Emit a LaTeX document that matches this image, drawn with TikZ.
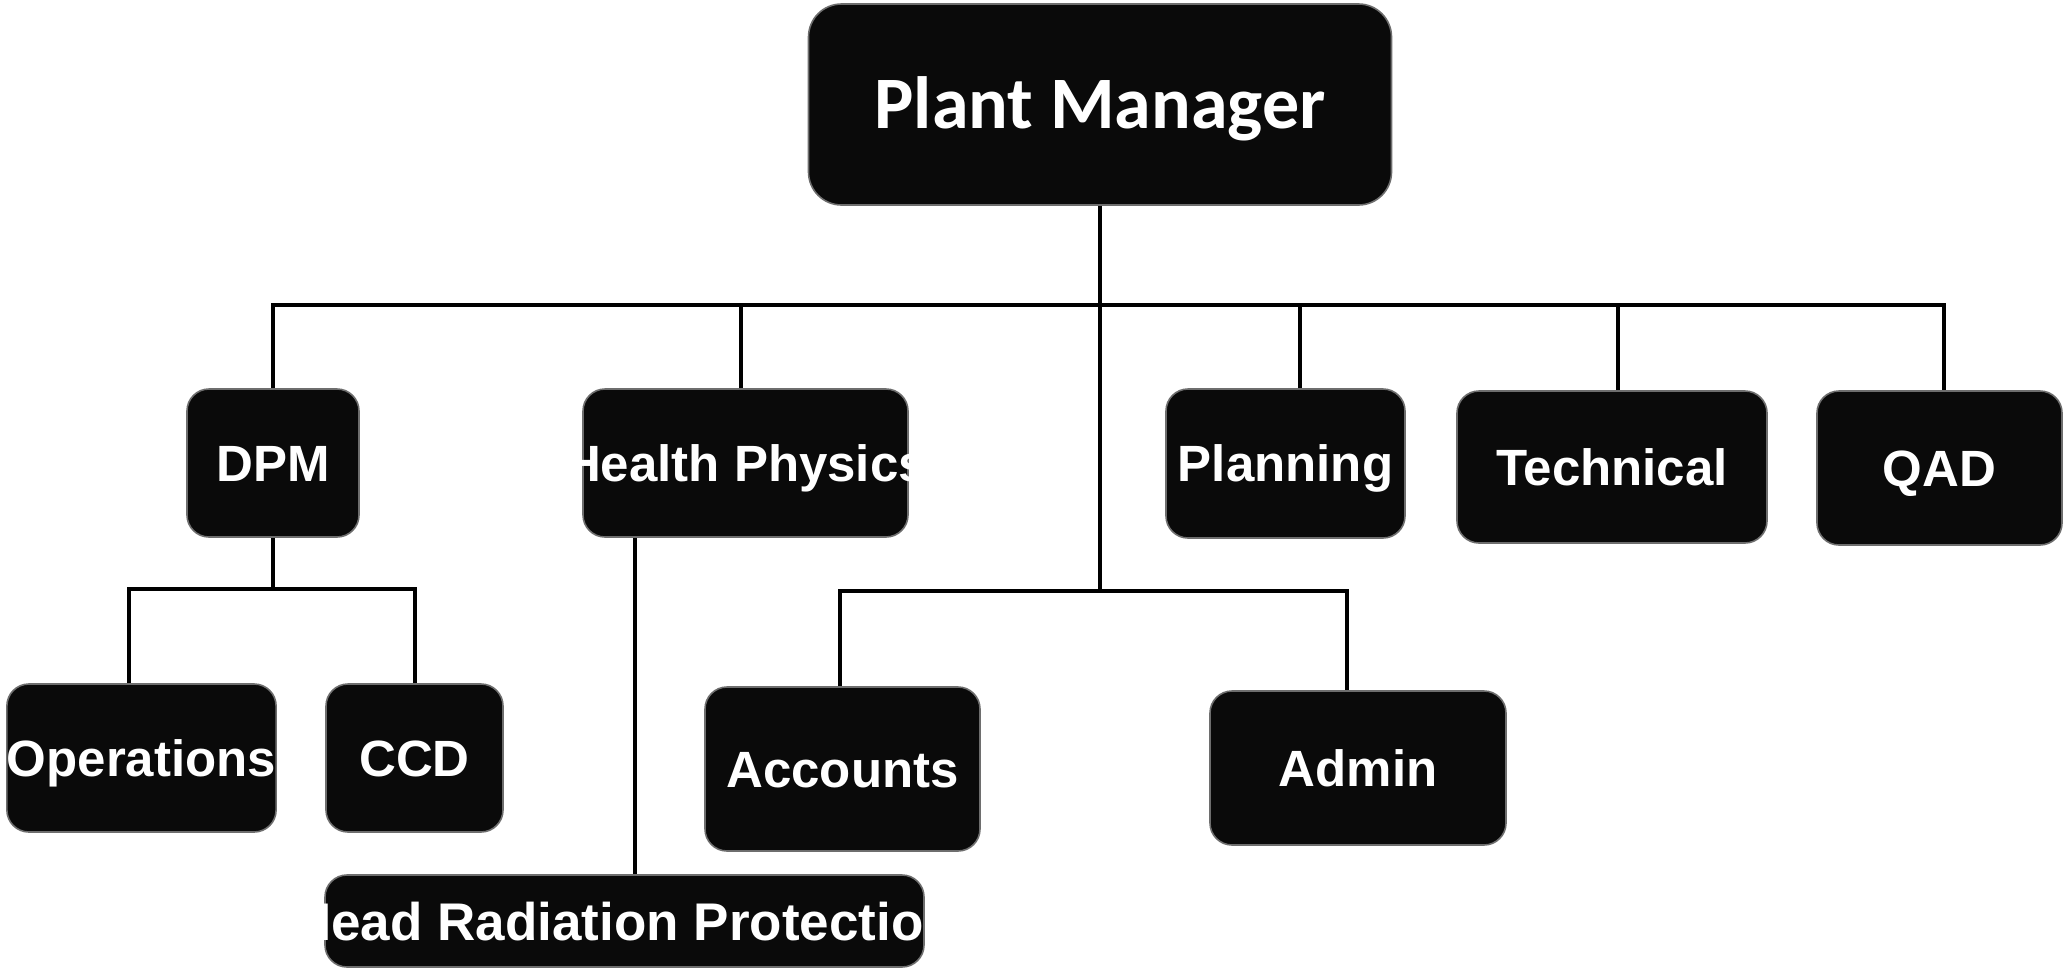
\documentclass[tikz,border=0pt]{standalone}
\usepackage{fontspec}
\setmainfont{Liberation Sans}
\newfontfamily\calibfont{Carlito}
\definecolor{boxfill}{HTML}{0A0A0A}
\definecolor{boxedge}{HTML}{6E6E6E}
\tikzset{
  box/.style={rectangle, rounded corners=22pt, fill=boxfill, draw=boxedge, line width=1.6pt,
    inner sep=0pt, text=white, font=\bfseries\fontsize{51}{51}\selectfont,
    text height=36.5pt, text depth=0pt},
  boxtext/.style={inner sep=0pt, text=white, font=\bfseries\fontsize{#1}{#1}\selectfont,
    text height=36.5pt, text depth=0pt},
  conn/.style={line width=4pt, black},
}
\begin{document}
\begin{tikzpicture}[x=1pt,y=-1pt]
\useasboundingbox (0,0) rectangle (2063,970);
% boxes
\node[box, rounded corners=33pt, minimum width=583pt, minimum height=201pt,
      font=\calibfont\bfseries\fontsize{74}{74}\selectfont, text height=47.7pt] (pm) at (1100,104.5) {Plant Manager};
\node[box, minimum width=172pt, minimum height=148pt] (dpm) at (273,463) {DPM};
\node[box, minimum width=325pt, minimum height=148pt] (hp) at (745.5,463) {};
\begin{scope}
  \clip[rounded corners=22pt] (hp.south west) rectangle (hp.north east);
  \node[boxtext=51] (hptext) at (hp.center) {Health Physics};
\end{scope}
\node[box, minimum width=239pt, minimum height=149pt] (plan) at (1285.5,463.5) {Planning};
\node[box, minimum width=310pt, minimum height=152pt] (tech) at (1612,467) {Technical};
\node[box, minimum width=245pt, minimum height=154pt] (qad) at (1939.5,468) {QAD};
\node[box, minimum width=269pt, minimum height=148pt] (ops) at (141.5,758) {Operations};
\node[box, minimum width=177pt, minimum height=148pt] (ccd) at (414.5,758) {CCD};
\node[box, minimum width=275pt, minimum height=164pt] (acc) at (842.5,769) {Accounts};
\node[box, minimum width=296pt, minimum height=154pt] (adm) at (1358,768) {Admin};
\node[box, minimum width=599pt, minimum height=92pt] (hrp) at (624.5,921) {};
\begin{scope}
  \clip[rounded corners=22pt] (hrp.south west) rectangle (hrp.north east);
  \node[boxtext=53, text height=38pt] (hrptext) at (hrp.center) {Head Radiation Protection};
\end{scope}
% junctions
\coordinate (j1) at (1100,305);
\coordinate (j2) at (1100,591);
\coordinate (j3) at (273,589);
% connectors
\draw[conn] (pm.south) -- (j1);
\draw[conn] (dpm.north) |- (j1) -| ([xshift=4pt]qad.north);
\draw[conn] ([xshift=-5pt]hp.north) -- ([xshift=-5pt]hp.north |- j1);
\draw[conn] ([xshift=14pt]plan.north) -- ([xshift=14pt]plan.north |- j1);
\draw[conn] ([xshift=6pt]tech.north) -- ([xshift=6pt]tech.north |- j1);
\draw[conn] (j1) -- (j2);
\draw[conn] ([xshift=-3pt]acc.north) |- (j2) -| ([xshift=-11pt]adm.north);
\draw[conn] (dpm.south) -- (j3);
\draw[conn] ([xshift=-13pt]ops.north) |- (j3) -| (ccd.north);
\draw[conn] ([xshift=-111pt]hp.south) -- ([xshift=-111pt]hp.south |- hrp.north);
\end{tikzpicture}
\end{document}
